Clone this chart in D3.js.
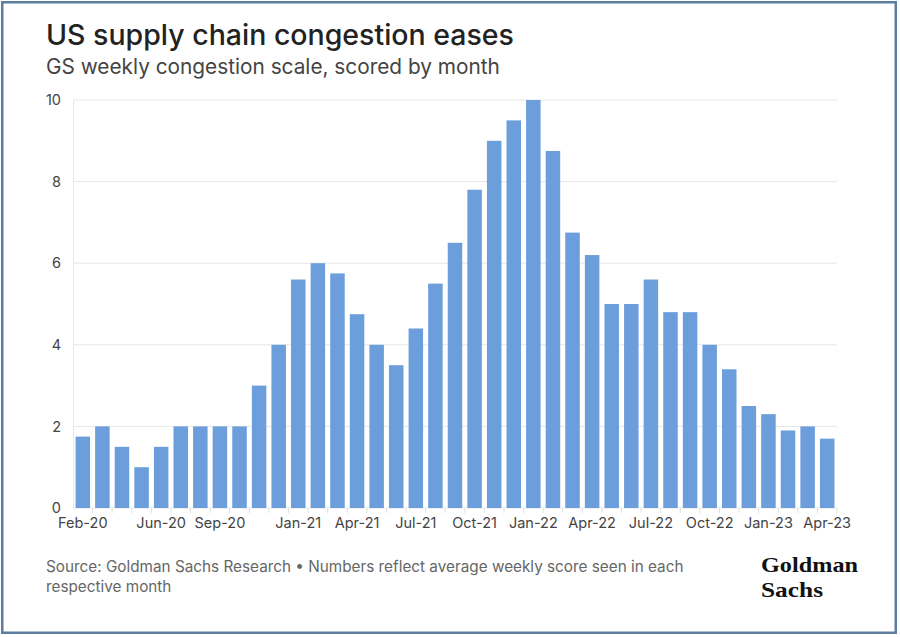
<!DOCTYPE html>
<html>
<head>
<meta charset="utf-8">
<script src="https://cdn.jsdelivr.net/npm/d3@7"></script>
<style>
  html, body { margin: 0; padding: 0; background: #ffffff; }
  svg { display: block; }
</style>
</head>
<body>
<div id="chart"></div>
<script>
const months = ["Feb-20","Mar-20","Apr-20","May-20","Jun-20","Jul-20","Aug-20","Sep-20","Oct-20","Nov-20","Dec-20",
  "Jan-21","Feb-21","Mar-21","Apr-21","May-21","Jun-21","Jul-21","Aug-21","Sep-21","Oct-21","Nov-21","Dec-21",
  "Jan-22","Feb-22","Mar-22","Apr-22","May-22","Jun-22","Jul-22","Aug-22","Sep-22","Oct-22","Nov-22","Dec-22",
  "Jan-23","Feb-23","Mar-23","Apr-23"];
const scores = [1.75,2.0,1.5,1.0,1.5,2.0,2.0,2.0,2.0,3.0,4.0,
  5.6,6.0,5.75,4.75,4.0,3.5,4.4,5.5,6.5,7.8,9.0,9.5,
  10.0,8.75,6.75,6.2,5.0,5.0,5.6,4.8,4.8,4.0,3.4,2.5,
  2.3,1.9,2.0,1.7];
const xTickLabels = ["Feb-20","Jun-20","Sep-20","Jan-21","Apr-21","Jul-21","Oct-21","Jan-22","Apr-22","Jul-22","Oct-22","Jan-23","Apr-23"];
const yTicks = [0,2,4,6,8,10];

const W = 900, H = 637;
const svg = d3.select("#chart").append("svg").attr("width", W).attr("height", H);

// frame
svg.append("rect").attr("x", 2.25).attr("y", 2.25).attr("width", W - 4.5 - 2).attr("height", H - 4.5 - 2)
  .attr("fill", "#ffffff").attr("stroke", "#5d7e9f").attr("stroke-width", 2.5);

const font = "Inter, 'Noto Sans', sans-serif";

svg.append("text").attr("x", 46).attr("y", 45).text("US supply chain congestion eases")
  .attr("font-family", font).attr("font-weight", 500).attr("font-size", 28.5).attr("fill", "#222");
svg.append("text").attr("x", 46).attr("y", 74).text("GS weekly congestion scale, scored by month")
  .attr("font-family", font).attr("font-weight", 400).attr("font-size", 20.8).attr("fill", "#444");

const x = d3.scaleBand().domain(months).range([73, 837]).paddingInner(0.26).paddingOuter(0.13);
const y = d3.scaleLinear().domain([0, 10]).range([508, 100]);

// gridlines
svg.append("g").selectAll("line").data(yTicks).join("line")
  .attr("x1", 73).attr("x2", 837).attr("y1", d => y(d)).attr("y2", d => y(d))
  .attr("stroke", "#e6e6e6").attr("stroke-width", 1);
svg.append("line").attr("x1", 73.5).attr("x2", 73.5).attr("y1", y(10)).attr("y2", y(0))
  .attr("stroke", "#e6e6e6");

// y axis labels
const yAxis = d3.axisLeft(y).tickValues(yTicks).tickSize(0).tickPadding(12);
const gy = svg.append("g").attr("transform", "translate(73,0)").call(yAxis);
gy.select(".domain").remove();
gy.selectAll("text").attr("font-family", font).attr("font-size", 14.5).attr("fill", "#444");

// bars
svg.append("g").selectAll("rect").data(months).join("rect")
  .attr("x", d => x(d)).attr("width", x.bandwidth())
  .attr("y", (d, i) => y(scores[i])).attr("height", (d, i) => y(0) - y(scores[i]))
  .attr("fill", "#6b9edb");

// x axis
const xAxis = d3.axisBottom(x).tickSize(5).tickPadding(5)
  .tickFormat(d => xTickLabels.includes(d) ? d : "");
const gx = svg.append("g").attr("transform", "translate(0,508)").call(xAxis);
gx.select(".domain").remove();
gx.selectAll(".tick line").attr("stroke", "#e0e0e0").attr("transform", `translate(${x.step() / 2},0)`);
gx.selectAll("text").attr("font-family", font).attr("font-size", 14.5).attr("fill", "#444");

// source
const src = svg.append("text").attr("font-family", font).attr("font-size", 15.3).attr("fill", "#666");
src.append("tspan").attr("x", 46).attr("y", 572).text("Source: Goldman Sachs Research \u2022 Numbers reflect average weekly score seen in each");
src.append("tspan").attr("x", 46).attr("y", 592).text("respective month");

// logo
const logo = svg.append("g").attr("font-family", "'Liberation Serif', 'DejaVu Serif', serif").attr("font-weight", 700)
  .attr("fill", "#111").attr("font-size", 22);
logo.append("text").attr("x", 761).attr("y", 572).text("Goldman").attr("textLength", 97).attr("lengthAdjust", "spacingAndGlyphs");
logo.append("text").attr("x", 761).attr("y", 596.5).text("Sachs").attr("textLength", 62).attr("lengthAdjust", "spacingAndGlyphs");
</script>
</body>
</html>
